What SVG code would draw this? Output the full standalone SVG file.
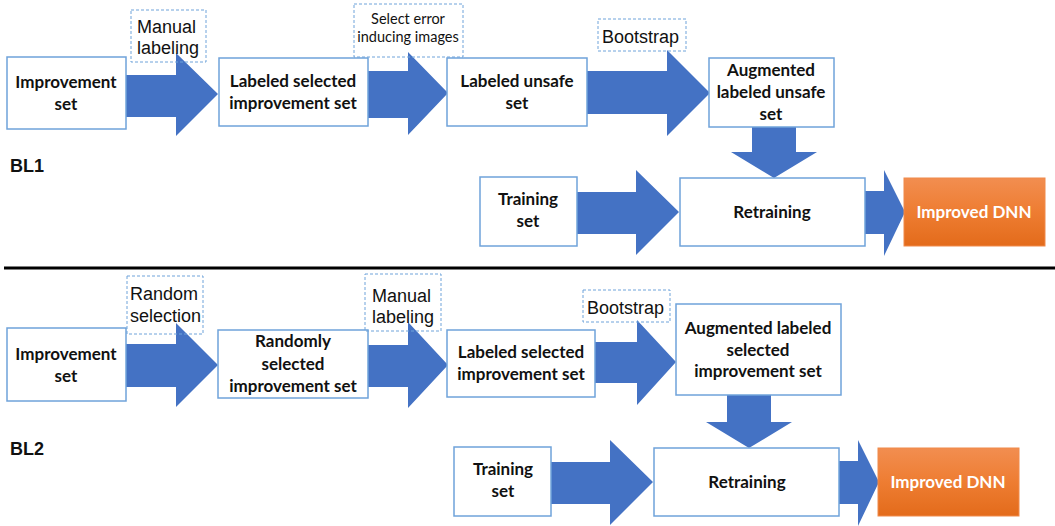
<svg xmlns="http://www.w3.org/2000/svg" width="1055" height="526" viewBox="0 0 1055 526">
<defs>
<linearGradient id="og" x1="0" y1="0" x2="0" y2="1">
<stop offset="0" stop-color="#F28E50"/>
<stop offset="0.5" stop-color="#EE7D32"/>
<stop offset="1" stop-color="#E36B1B"/>
</linearGradient>
<style>
.box{fill:#fff;stroke:#6FA3DA;stroke-width:1.5}
.lbl{fill:none;stroke:#6FA3DA;stroke-width:1;stroke-dasharray:3 2}
.arr{fill:#4472C4}
.nt{font-family:Lato,"Liberation Sans",sans-serif;font-weight:bold;font-size:17px;fill:#111;text-anchor:middle}
.lt{font-family:"Liberation Sans",Arial,sans-serif;font-size:18px;fill:#111}
.st{font-family:Lato,"Liberation Sans",sans-serif;font-size:14.5px;fill:#111;text-anchor:middle}
.bl{font-family:"Liberation Sans",Arial,sans-serif;font-weight:bold;font-size:18px;fill:#111}
.wt{font-family:Lato,"Liberation Sans",sans-serif;font-weight:bold;font-size:17px;fill:#fff;text-anchor:middle}
</style>
</defs>
<rect width="1055" height="526" fill="#fff"/>

<g id="connectors">
<!-- BL1 -->
<polygon class="arr" points="126,75 176,75 176,53 218,94 176,136 176,117 126,117"/>
<polygon class="arr" points="368,71 408,71 408,52 448,93 408,135 408,118 368,118"/>
<polygon class="arr" points="587,71 667,71 667,50 710,93 667,136 667,114 587,114"/>
<polygon class="arr" points="752,127 796,127 796,152 817,152 774,178 731,152 752,152"/>
<polygon class="arr" points="577,192 636,192 636,170 679,212 636,255 636,234 577,234"/>
<polygon class="arr" points="865,191 884,191 884,170 905,212 884,256 884,234 865,234"/>
<!-- BL2 -->
<polygon class="arr" points="126,344 176,344 176,323 218,365 176,407 176,387 126,387"/>
<polygon class="arr" points="368,345 408,345 408,322 448,365 408,408 408,387 368,387"/>
<polygon class="arr" points="595,342 637,342 637,320 676,362 637,405 637,383 595,383"/>
<polygon class="arr" points="727,395 771,395 771,422 792,422 749,448 706,422 727,422"/>
<polygon class="arr" points="551,462 610,462 610,440 653,482 610,525 610,504 551,504"/>
<polygon class="arr" points="839,461 858,461 858,440 879,482 858,526 858,504 839,504"/>
</g>

<line x1="4" y1="268" x2="1055" y2="268" stroke="#000" stroke-width="3"/>
<text class="bl" x="10" y="172">BL1</text>
<text class="bl" x="10" y="455">BL2</text>

<!-- BL1 nodes -->
<g id="bl1-improvement-set">
<rect class="box" x="7" y="57" width="119" height="72"/>
<text class="nt" x="66" y="88">Improvement</text>
<text class="nt" x="66" y="110">set</text>
</g>
<g id="bl1-label-manual">
<rect class="lbl" x="131" y="10" width="75" height="52"/>
<text class="lt" x="137" y="33">Manual</text>
<text class="lt" x="137" y="54">labeling</text>
</g>
<g id="bl1-labeled-selected">
<rect class="box" x="219" y="58" width="149" height="68"/>
<text class="nt" x="293" y="87">Labeled selected</text>
<text class="nt" x="293" y="109">improvement set</text>
</g>
<g id="bl1-label-select-error">
<rect class="lbl" x="354" y="4" width="109" height="53"/>
<text class="st" x="408" y="24">Select error</text>
<text class="st" x="408" y="42">inducing images</text>
</g>
<g id="bl1-labeled-unsafe">
<rect class="box" x="447" y="58" width="140" height="68"/>
<text class="nt" x="517" y="87">Labeled unsafe</text>
<text class="nt" x="517" y="109">set</text>
</g>
<g id="bl1-label-bootstrap">
<rect class="lbl" x="598" y="19" width="88" height="32"/>
<text class="lt" x="602" y="43">Bootstrap</text>
</g>
<g id="bl1-augmented">
<rect class="box" x="709" y="58" width="125" height="69"/>
<text class="nt" x="771" y="76">Augmented</text>
<text class="nt" x="771" y="98">labeled unsafe</text>
<text class="nt" x="771" y="120">set</text>
</g>
<g id="bl1-training-set">
<rect class="box" x="480" y="177" width="97" height="69"/>
<text class="nt" x="528" y="205">Training</text>
<text class="nt" x="528" y="227">set</text>
</g>
<g id="bl1-retraining">
<rect class="box" x="680" y="178" width="185" height="68"/>
<text class="nt" x="772" y="218">Retraining</text>
</g>
<g id="bl1-improved-dnn">
<rect x="904" y="178" width="141" height="68" fill="url(#og)" stroke="#F08A4B" stroke-width="1"/>
<text class="wt" x="974" y="218">Improved DNN</text>
</g>

<!-- BL2 nodes -->
<g id="bl2-improvement-set">
<rect class="box" x="7" y="328" width="119" height="73"/>
<text class="nt" x="66" y="360">Improvement</text>
<text class="nt" x="66" y="382">set</text>
</g>
<g id="bl2-label-random">
<rect class="lbl" x="127" y="276" width="76" height="58"/>
<text class="lt" x="130" y="300">Random</text>
<text class="lt" x="130" y="322">selection</text>
</g>
<g id="bl2-randomly-selected">
<rect class="box" x="218" y="330" width="150" height="68"/>
<text class="nt" x="293" y="347">Randomly</text>
<text class="nt" x="293" y="370">selected</text>
<text class="nt" x="293" y="392">improvement set</text>
</g>
<g id="bl2-label-manual">
<rect class="lbl" x="365" y="274" width="76" height="57"/>
<text class="lt" x="372" y="302">Manual</text>
<text class="lt" x="372" y="323">labeling</text>
</g>
<g id="bl2-labeled-selected">
<rect class="box" x="447" y="330" width="148" height="67"/>
<text class="nt" x="521" y="358">Labeled selected</text>
<text class="nt" x="521" y="380">improvement set</text>
</g>
<g id="bl2-label-bootstrap">
<rect class="lbl" x="583" y="290" width="87" height="32"/>
<text class="lt" x="587" y="314">Bootstrap</text>
</g>
<g id="bl2-augmented">
<rect class="box" x="676" y="304" width="165" height="91"/>
<text class="nt" x="758" y="334">Augmented labeled</text>
<text class="nt" x="758" y="356">selected</text>
<text class="nt" x="758" y="377">improvement set</text>
</g>
<g id="bl2-training-set">
<rect class="box" x="454" y="447" width="97" height="69"/>
<text class="nt" x="503" y="475">Training</text>
<text class="nt" x="503" y="497">set</text>
</g>
<g id="bl2-retraining">
<rect class="box" x="654" y="448" width="185" height="68"/>
<text class="nt" x="747" y="488">Retraining</text>
</g>
<g id="bl2-improved-dnn">
<rect x="878" y="448" width="141" height="68" fill="url(#og)" stroke="#F08A4B" stroke-width="1"/>
<text class="wt" x="948" y="488">Improved DNN</text>
</g>
</svg>
